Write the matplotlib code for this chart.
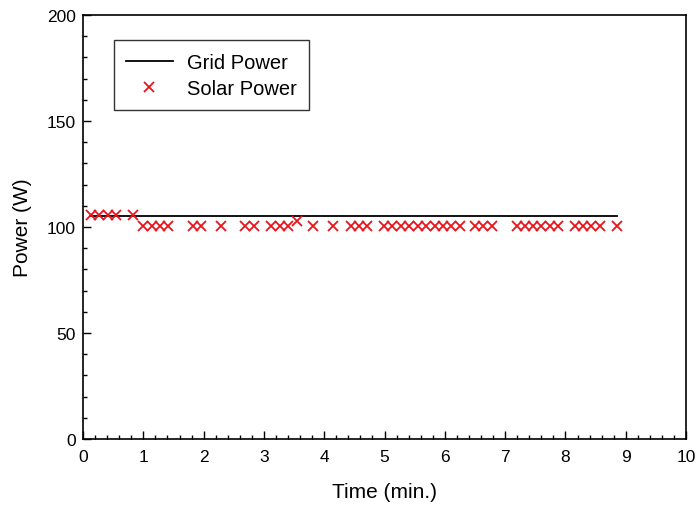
import matplotlib
matplotlib.use("Agg")
import matplotlib.pyplot as plt
from matplotlib.ticker import MultipleLocator

plt.rcParams['font.family'] = ['Liberation Sans', 'DejaVu Sans']

# Grid power (constant line)
grid_time = [0.12, 8.85]
grid_power = [105, 105]

# Solar power samples
solar_time = [0.14, 0.27, 0.41, 0.54, 0.83,
              1.00, 1.14, 1.28, 1.41,
              1.82, 1.96, 2.28, 2.69, 2.84,
              3.12, 3.26, 3.40, 3.55, 3.81, 4.14,
              4.44, 4.58, 4.71,
              4.99, 5.13, 5.27, 5.41, 5.55, 5.69, 5.83, 5.97, 6.11, 6.25,
              6.50, 6.64, 6.79,
              7.19, 7.33, 7.46, 7.60, 7.74, 7.88,
              8.16, 8.29, 8.43, 8.57, 8.85]
solar_power = [105.5, 105.5, 105.5, 105.5, 105.5,
               100.5, 100.5, 100.5, 100.5,
               100.5, 100.5, 100.5, 100.5, 100.5,
               100.5, 100.5, 100.5, 103, 100.5, 100.5,
               100.5, 100.5, 100.5,
               100.5, 100.5, 100.5, 100.5, 100.5, 100.5, 100.5, 100.5, 100.5, 100.5,
               100.5, 100.5, 100.5,
               100.5, 100.5, 100.5, 100.5, 100.5, 100.5,
               100.5, 100.5, 100.5, 100.5, 100.5]

fig = plt.figure(figsize=(6.96, 5.06), dpi=100)
ax = fig.add_axes([0.1193, 0.1304, 0.8664, 0.838])

ax.plot(grid_time, grid_power, color='black', lw=1.3, label='Grid Power', zorder=2)
ax.plot(solar_time, solar_power, linestyle='none', marker='x', color='#e8141b',
        markersize=7, markeredgewidth=1.3, label='Solar Power', zorder=3)

ax.set_xlim(0, 10)
ax.set_ylim(0, 200)
ax.xaxis.set_major_locator(MultipleLocator(1))
ax.xaxis.set_minor_locator(MultipleLocator(0.2))
ax.yaxis.set_major_locator(MultipleLocator(50))
ax.yaxis.set_minor_locator(MultipleLocator(10))
ax.tick_params(which='both', direction='in', top=False, right=False, labelsize=12.5, width=1)
ax.tick_params(axis='x', which='major', length=6, pad=7.5)
ax.tick_params(axis='y', which='major', length=6, pad=5)
ax.tick_params(which='minor', length=3)
for s in ax.spines.values():
    s.set_linewidth(1.2)

ax.set_xlabel('Time (min.)', fontsize=15, labelpad=13)
ax.set_ylabel('Power (W)', fontsize=15, labelpad=11)

leg = ax.legend(loc='upper left', bbox_to_anchor=(0.051, 0.94), numpoints=1,
                fancybox=False, edgecolor='black', fontsize=14.5, handlelength=2.3,
                borderpad=0.62, labelspacing=0.35, handletextpad=0.7, borderaxespad=0)
leg.get_frame().set_linewidth(1.0)

fig.savefig('out.png', dpi=100)
